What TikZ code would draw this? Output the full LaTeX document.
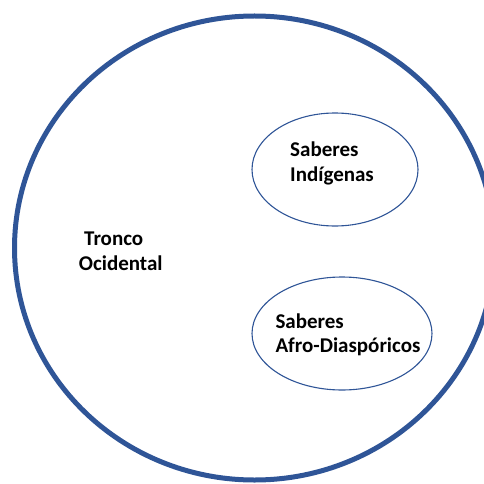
\documentclass[tikz,border=0pt]{standalone}
\usepackage{fontspec}
\setmainfont{Carlito}[BoldFont={Carlito Bold}]
\usetikzlibrary{shapes.geometric}
\definecolor{ringblue}{HTML}{2F5597}
\begin{document}
\begin{tikzpicture}[x=1pt,y=-1pt,
  lbl/.style={font=\bfseries\fontsize{21}{24.3}\selectfont, align=left, inner sep=0pt, anchor=base west},
  oval/.style={ellipse, draw=ringblue, line width=1.1pt, inner sep=0pt}]
\useasboundingbox (0,0) rectangle (483,484);
\node[ellipse, draw=ringblue, line width=5pt, minimum width=480, minimum height=464, inner sep=0pt] (tronco) at (254.5,248) {};
\node[oval, minimum width=166, minimum height=113] (ind) at (335,169.5) {};
\node[oval, minimum width=180, minimum height=113] (afro) at (342,333.5) {};
\node[lbl] (tlabel) at (78.7,270) {\hspace*{5.3pt}Tronco\\Ocidental};
\node[lbl] (ilabel) at (290,181) {Saberes\\Indígenas};
\node[lbl] (alabel) at (275.3,352.3) {Saberes\\Afro-Diaspóricos};
\end{tikzpicture}
\end{document}
